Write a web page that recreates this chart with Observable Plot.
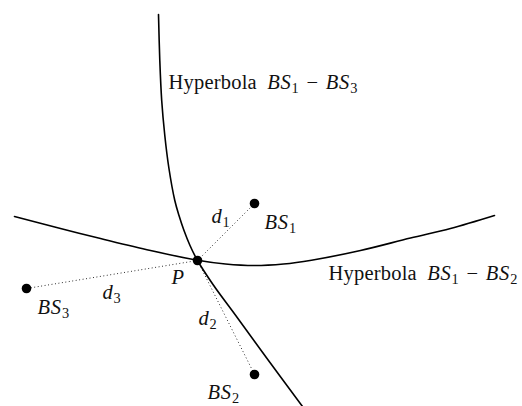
<!DOCTYPE html>
<html><head><meta charset="utf-8">
<script src="https://cdn.jsdelivr.net/npm/d3@7"></script>
<script src="https://cdn.jsdelivr.net/npm/@observablehq/plot@0.6"></script>
<style>body{margin:0;background:#fff}svg{display:block}text{white-space:pre;letter-spacing:0.2px}tspan.m{letter-spacing:0.8px}</style>
</head><body><div id="chart"></div>
<script>
// Hyperbola BS1-BS3 (y grows downward)
const hyperbola13 = [[158,14],[159.3,60],[161.2,100],[164.3,135],[168.3,167],[174.3,200],[178.5,215],[183.5,230],[189.5,245],[197,260],[212.5,284],[236.7,317],[268,360],[302,406]];
// Hyperbola BS1-BS2
const hyperbola12 = [[14,216],[60,228],[100,238],[150,250],[197,259.7],[225,263.5],[254,265],[283,263.5],[311,259.7],[360,250],[410,237.5],[450,228],[494,215]];
// Base stations and the position P
const stationNames = ["BS_1","BS_2","BS_3"];
const stationX = [254,254,26];
const stationY = [203,374,288];
const pointP = {x:197, y:260};
// Labels
const labelTexts = ["Hyperbola $BS_1-BS_3$","Hyperbola $BS_1-BS_2$","$BS_1$","$BS_2$","$BS_3$","$d_1$","$d_2$","$d_3$","$P$"];
const labelX = [168,328,264,207,37,211,198,102,171];
const labelY = [88,279,228,398,313,222,324,298,283];

const stations = stationNames.map((n,i)=>({name:n,x:stationX[i],y:stationY[i]}));
const labels = labelTexts.map((t,i)=>({t,x:labelX[i],y:labelY[i]}));

const FS = 20.5;
const plot = Plot.plot({
  width:522, height:406, margin:0,
  style:{background:"#fff"},
  x:{domain:[0,522], range:[0,522], axis:null},
  y:{domain:[0,406], range:[0,406], axis:null},
  marks:[
    Plot.line(hyperbola13,{x:d=>d[0],y:d=>d[1],curve:"catmull-rom",stroke:"#000",strokeWidth:1.6}),
    Plot.line(hyperbola12,{x:d=>d[0],y:d=>d[1],curve:"catmull-rom",stroke:"#000",strokeWidth:1.6}),
    Plot.link(stations,{x1:()=>pointP.x,y1:()=>pointP.y,x2:"x",y2:"y",stroke:"#000",strokeWidth:0.9,strokeDasharray:"0.9 2.6"}),
    Plot.dot([...stations,pointP],{x:"x",y:"y",r:4.8,fill:"#000",stroke:"none"}),
    Plot.text(labels,{x:"x",y:"y",text:"t",textAnchor:"start",lineAnchor:"bottom",fontSize:FS,fontFamily:"Liberation Serif",fill:"#111"})
  ]
});

function typeset(el){
  const s = el.textContent;
  el.textContent = "";
  const subShift = 4, subSize = 0.7;
  const hasPrefix = s.indexOf("$") > 0;
  let cur = 0;
  function add(str, opts){
    const t = document.createElementNS("http://www.w3.org/2000/svg","tspan");
    t.textContent = str;
    const shift = opts.sub ? subShift : 0;
    if (shift !== cur) { t.setAttribute("dy", shift - cur); cur = shift; }
    if (opts.dx) t.setAttribute("dx", opts.dx);
    if (opts.sub) t.setAttribute("font-size", FS*subSize);
    if (opts.italic) t.setAttribute("font-style","italic");
    if (opts.math) t.setAttribute("class","m");
    el.appendChild(t);
  }
  s.split("$").forEach((part,i)=>{
    if (i%2===0) { if (part) add(part,{}); return; }
    let j=0;
    while (j<part.length){
      const c = part[j];
      if (c==="_") { add(part[j+1],{sub:true,math:true}); j+=2; continue; }
      if (c==="-") { add(" \u2212 ",{math:true,dx:1}); j++; continue; }
      const dx = (j===0 && hasPrefix) ? 5 : (j>0 && part[j-1]==="-") ? 1 : 0;
      add(c,{italic:/[A-Za-z]/.test(c),math:true,dx}); j++;
    }
  });
}
plot.querySelectorAll("g[aria-label='text'] text").forEach(typeset);
document.getElementById("chart").appendChild(plot);
</script>
</body></html>
